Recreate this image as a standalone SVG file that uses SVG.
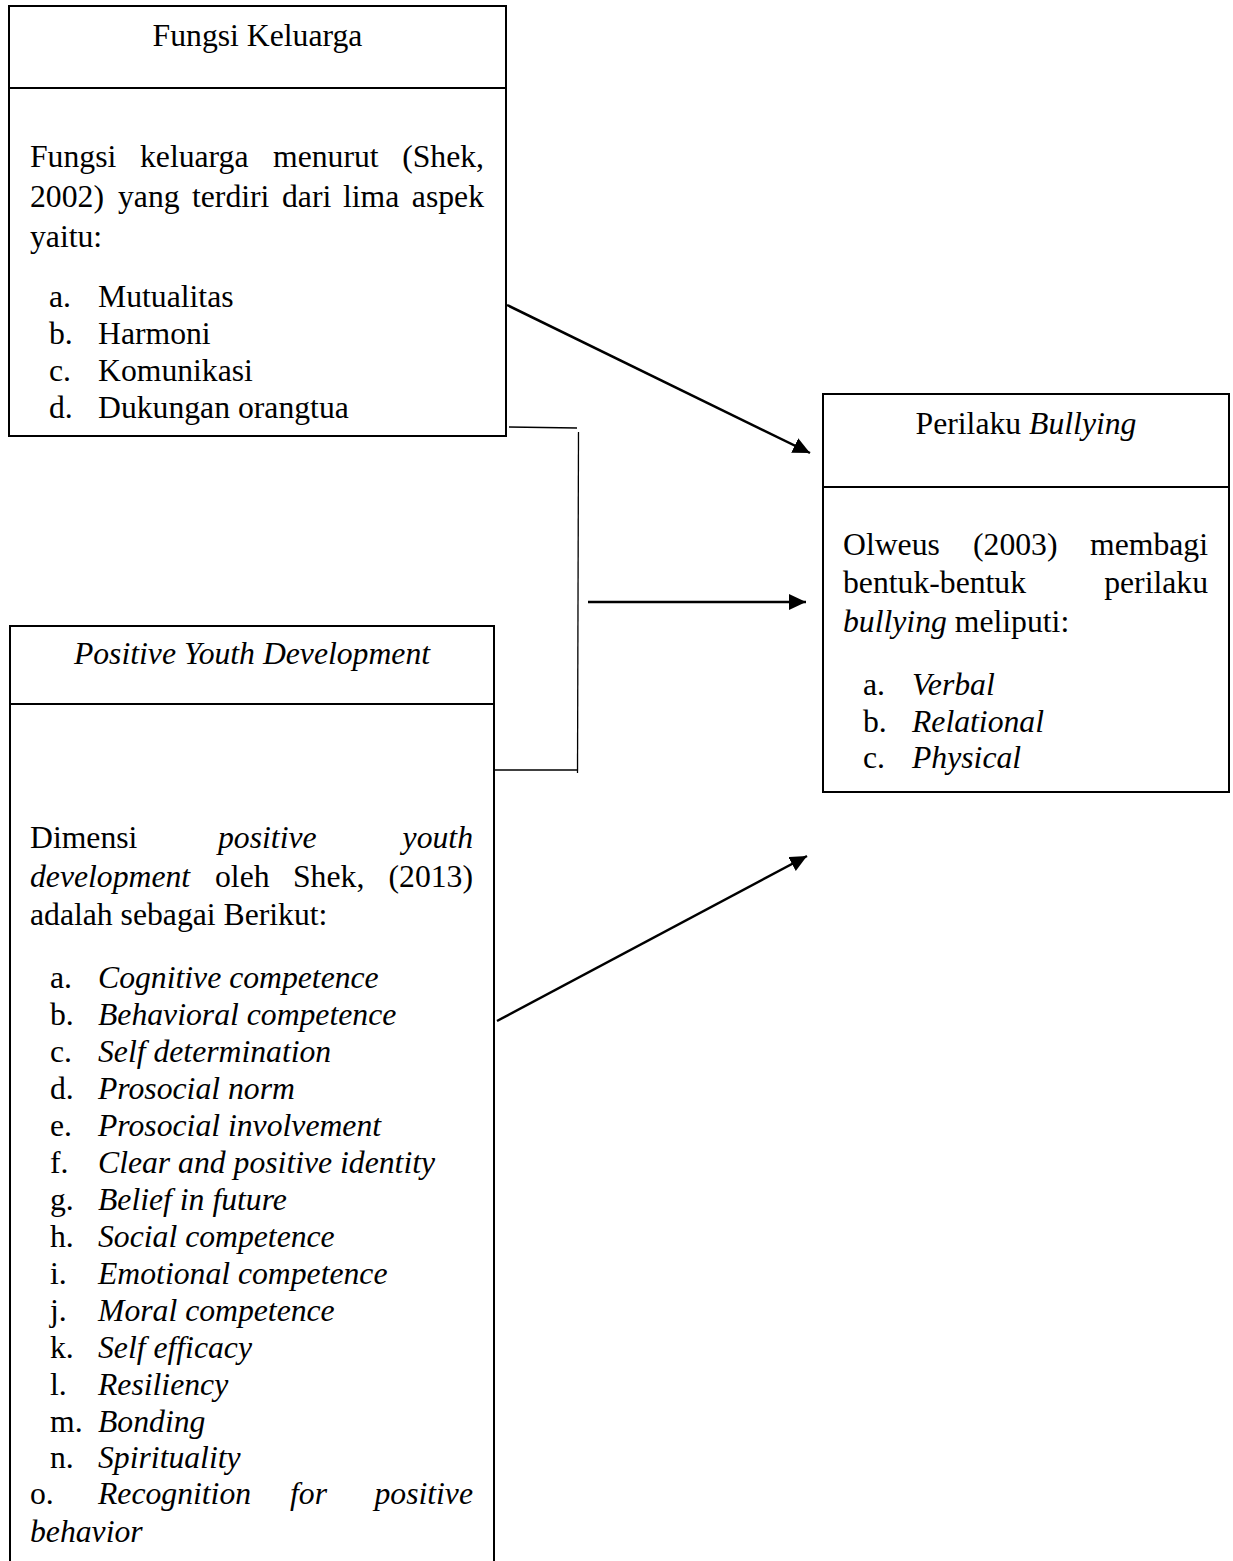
<svg xmlns="http://www.w3.org/2000/svg" width="1233" height="1561" viewBox="0 0 1233 1561">
<style>
.box{fill:none;stroke:#000;stroke-width:2}
.t{font-family:"Liberation Serif","Times New Roman",serif;font-size:31.7px;fill:#000}
.i{font-style:italic}
.e{text-anchor:end}
.m{text-anchor:middle}
.arr{stroke:#000;stroke-width:2.5;fill:none;marker-end:url(#ah)}
.br{stroke:#000;stroke-width:1.3;fill:none}
</style>
<defs>
<marker id="ah" markerUnits="userSpaceOnUse" markerWidth="18" markerHeight="18" refX="17" refY="8" orient="auto">
<path d="M0,0 L17,8 L0,16 Z" fill="#000"/>
</marker>
</defs>
<rect width="1233" height="1561" fill="#fff"/>
<g id="fungsi-keluarga">
<rect class="box" x="9" y="6" width="497" height="430"/>
<line class="box" x1="9" y1="88" x2="506" y2="88"/>
<text class="t m" x="257.5" y="46">Fungsi Keluarga</text>
<text class="t" x="30" y="167">Fungsi</text>
<text class="t" x="140" y="167">keluarga</text>
<text class="t" x="273" y="167">menurut</text>
<text class="t e" x="484" y="167">(Shek,</text>
<text class="t" x="30" y="207">2002)</text>
<text class="t" x="118" y="207">yang</text>
<text class="t" x="192" y="207">terdiri</text>
<text class="t" x="282" y="207">dari</text>
<text class="t" x="343" y="207">lima</text>
<text class="t e" x="484" y="207">aspek</text>
<text class="t" x="30" y="247">yaitu:</text>
<text class="t" x="49" y="307">a.</text><text class="t" x="98" y="307">Mutualitas</text>
<text class="t" x="49" y="344">b.</text><text class="t" x="98" y="344">Harmoni</text>
<text class="t" x="49" y="381">c.</text><text class="t" x="98" y="381">Komunikasi</text>
<text class="t" x="49" y="418">d.</text><text class="t" x="98" y="418">Dukungan orangtua</text>
</g>
<g id="perilaku-bullying">
<rect class="box" x="823" y="394" width="406" height="398"/>
<line class="box" x1="823" y1="487" x2="1229" y2="487"/>
<text class="t m" x="1026" y="434">Perilaku <tspan class="i">Bullying</tspan></text>
<text class="t" x="843" y="555">Olweus</text>
<text class="t" x="973" y="555">(2003)</text>
<text class="t e" x="1208" y="555">membagi</text>
<text class="t" x="843" y="593">bentuk-bentuk</text>
<text class="t e" x="1208" y="593">perilaku</text>
<text class="t" x="843" y="632"><tspan class="i">bullying</tspan> meliputi:</text>
<text class="t" x="863" y="695">a.</text><text class="t i" x="912" y="695">Verbal</text>
<text class="t" x="863" y="732">b.</text><text class="t i" x="912" y="732">Relational</text>
<text class="t" x="863" y="768">c.</text><text class="t i" x="912" y="768">Physical</text>
</g>
<g id="positive-youth-development">
<path class="box" d="M10,1575 V626 H494 V1575"/>
<line class="box" x1="10" y1="704" x2="494" y2="704"/>
<text class="t i m" x="252" y="664">Positive Youth Development</text>
<text class="t" x="30" y="848">Dimensi</text>
<text class="t i" x="218" y="848">positive</text>
<text class="t i e" x="473" y="848">youth</text>
<text class="t i" x="30" y="887">development</text>
<text class="t" x="215" y="887">oleh</text>
<text class="t" x="293" y="887">Shek,</text>
<text class="t e" x="473" y="887">(2013)</text>
<text class="t" x="30" y="925">adalah sebagai Berikut:</text>
<text class="t" x="50" y="988">a.</text><text class="t i" x="98" y="988">Cognitive competence</text>
<text class="t" x="50" y="1025">b.</text><text class="t i" x="98" y="1025">Behavioral competence</text>
<text class="t" x="50" y="1062">c.</text><text class="t i" x="98" y="1062">Self determination</text>
<text class="t" x="50" y="1099">d.</text><text class="t i" x="98" y="1099">Prosocial norm</text>
<text class="t" x="50" y="1136">e.</text><text class="t i" x="98" y="1136">Prosocial involvement</text>
<text class="t" x="50" y="1173">f.</text><text class="t i" x="98" y="1173">Clear and positive identity</text>
<text class="t" x="50" y="1210">g.</text><text class="t i" x="98" y="1210">Belief in future</text>
<text class="t" x="50" y="1247">h.</text><text class="t i" x="98" y="1247">Social competence</text>
<text class="t" x="50" y="1284">i.</text><text class="t i" x="98" y="1284">Emotional competence</text>
<text class="t" x="50" y="1321">j.</text><text class="t i" x="98" y="1321">Moral competence</text>
<text class="t" x="50" y="1358">k.</text><text class="t i" x="98" y="1358">Self efficacy</text>
<text class="t" x="50" y="1395">l.</text><text class="t i" x="98" y="1395">Resiliency</text>
<text class="t" x="50" y="1432">m.</text><text class="t i" x="98" y="1432">Bonding</text>
<text class="t" x="50" y="1468">n.</text><text class="t i" x="98" y="1468">Spirituality</text>
<text class="t" x="30" y="1504">o.</text>
<text class="t i" x="98" y="1504">Recognition</text>
<text class="t i" x="290" y="1504">for</text>
<text class="t i e" x="473" y="1504">positive</text>
<text class="t i" x="30" y="1542">behavior</text>
</g>
<g id="connectors">
<line class="arr" x1="507" y1="305" x2="810" y2="453"/>
<polyline class="br" points="509,427 577,428"/>
<line class="br" x1="578.5" y1="432" x2="577.5" y2="773"/>
<line class="br" x1="493" y1="770" x2="578" y2="770"/>
<line class="arr" x1="588" y1="602" x2="806" y2="602"/>
<line class="arr" x1="497" y1="1021" x2="807" y2="856"/>
</g>
</svg>
